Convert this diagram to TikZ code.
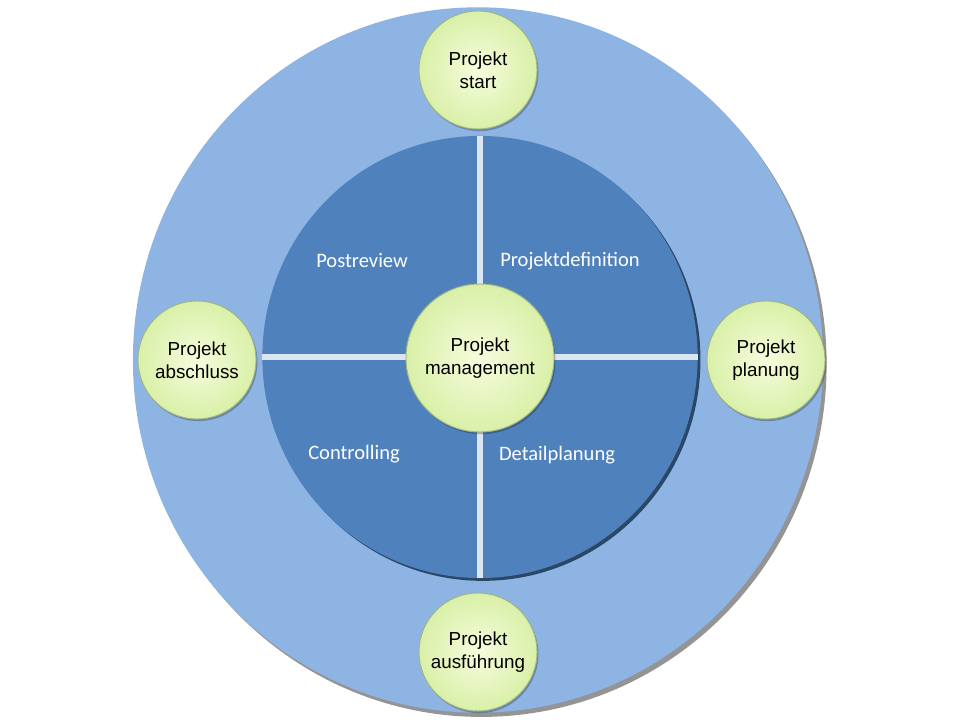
\documentclass[tikz,border=0pt]{standalone}
\usepackage{fontspec}
\setmainfont{Liberation Sans}
\newfontfamily\quarterfont{Carlito}
\usepackage{tikz}
\usetikzlibrary{positioning,shadows,shapes.geometric}
\definecolor{ringblue}{HTML}{8DB4E2}
\definecolor{coreblue}{HTML}{4F81BD}
\definecolor{sepwhite}{HTML}{DCE6F2}
\definecolor{phasein}{HTML}{F6FCDD}
\definecolor{phaseout}{HTML}{D9F0A8}
\definecolor{phaseedge}{HTML}{9FB585}

\begin{document}
\begin{tikzpicture}[x=0.025cm, y=-0.025cm,
  ring/.style={ellipse, fill=ringblue, minimum width=17.25cm,
    minimum height=17.63cm, inner sep=0pt,
    drop shadow={shadow xshift=2.5pt, shadow yshift=-3pt, fill=black!42, opacity=1}},
  core/.style={ellipse, fill=coreblue, minimum width=10.88cm,
    minimum height=11.05cm, inner sep=0pt,
    drop shadow={shadow xshift=2pt, shadow yshift=-2pt, fill=black!45!coreblue, opacity=1}},
  phase/.style={circle, draw=phaseedge, line width=0.7pt, inner color=phasein,
    outer color=phaseout, minimum size=2.95cm, inner sep=0pt, align=center,
    font=\fontsize{13.4}{16.4}\selectfont,
    drop shadow={shadow xshift=1pt, shadow yshift=-1.5pt, fill=black, opacity=0.25}},
  hub/.style={phase, minimum size=3.7cm},
  sep/.style={draw=sepwhite, line width=3.6pt},
  quarter/.style={text=white, font=\quarterfont\fontsize{14.6}{17}\selectfont}
]
\useasboundingbox (0,0) rectangle (960,720);

\node[ring] (ring) at (478,360) {};
\node[core] (core) at (480,357) {};

\draw[sep] (core.west) -- (core.east);
\draw[sep] (core.north) -- (core.south);

\node[quarter] (post) at (362,261) {Postreview};
\node[quarter] (def) at (570,261) {Projektdefinition};
\node[quarter] (ctrl) at (354,454) {Controlling};
\node[quarter] (detail) at (557,455) {Detailplanung};

\node[hub] (pm) at (480,358) {Projekt\\management};

\node[phase] (start) at (478,70) {Projekt\\start};
\node[phase] (plan) at (766,360) {Projekt\\planung};
\node[phase] (exec) at (478,652) {Projekt\\ausführung};
\node[phase] (close) at (197,360) {Projekt\\abschluss};
\end{tikzpicture}
\end{document}
